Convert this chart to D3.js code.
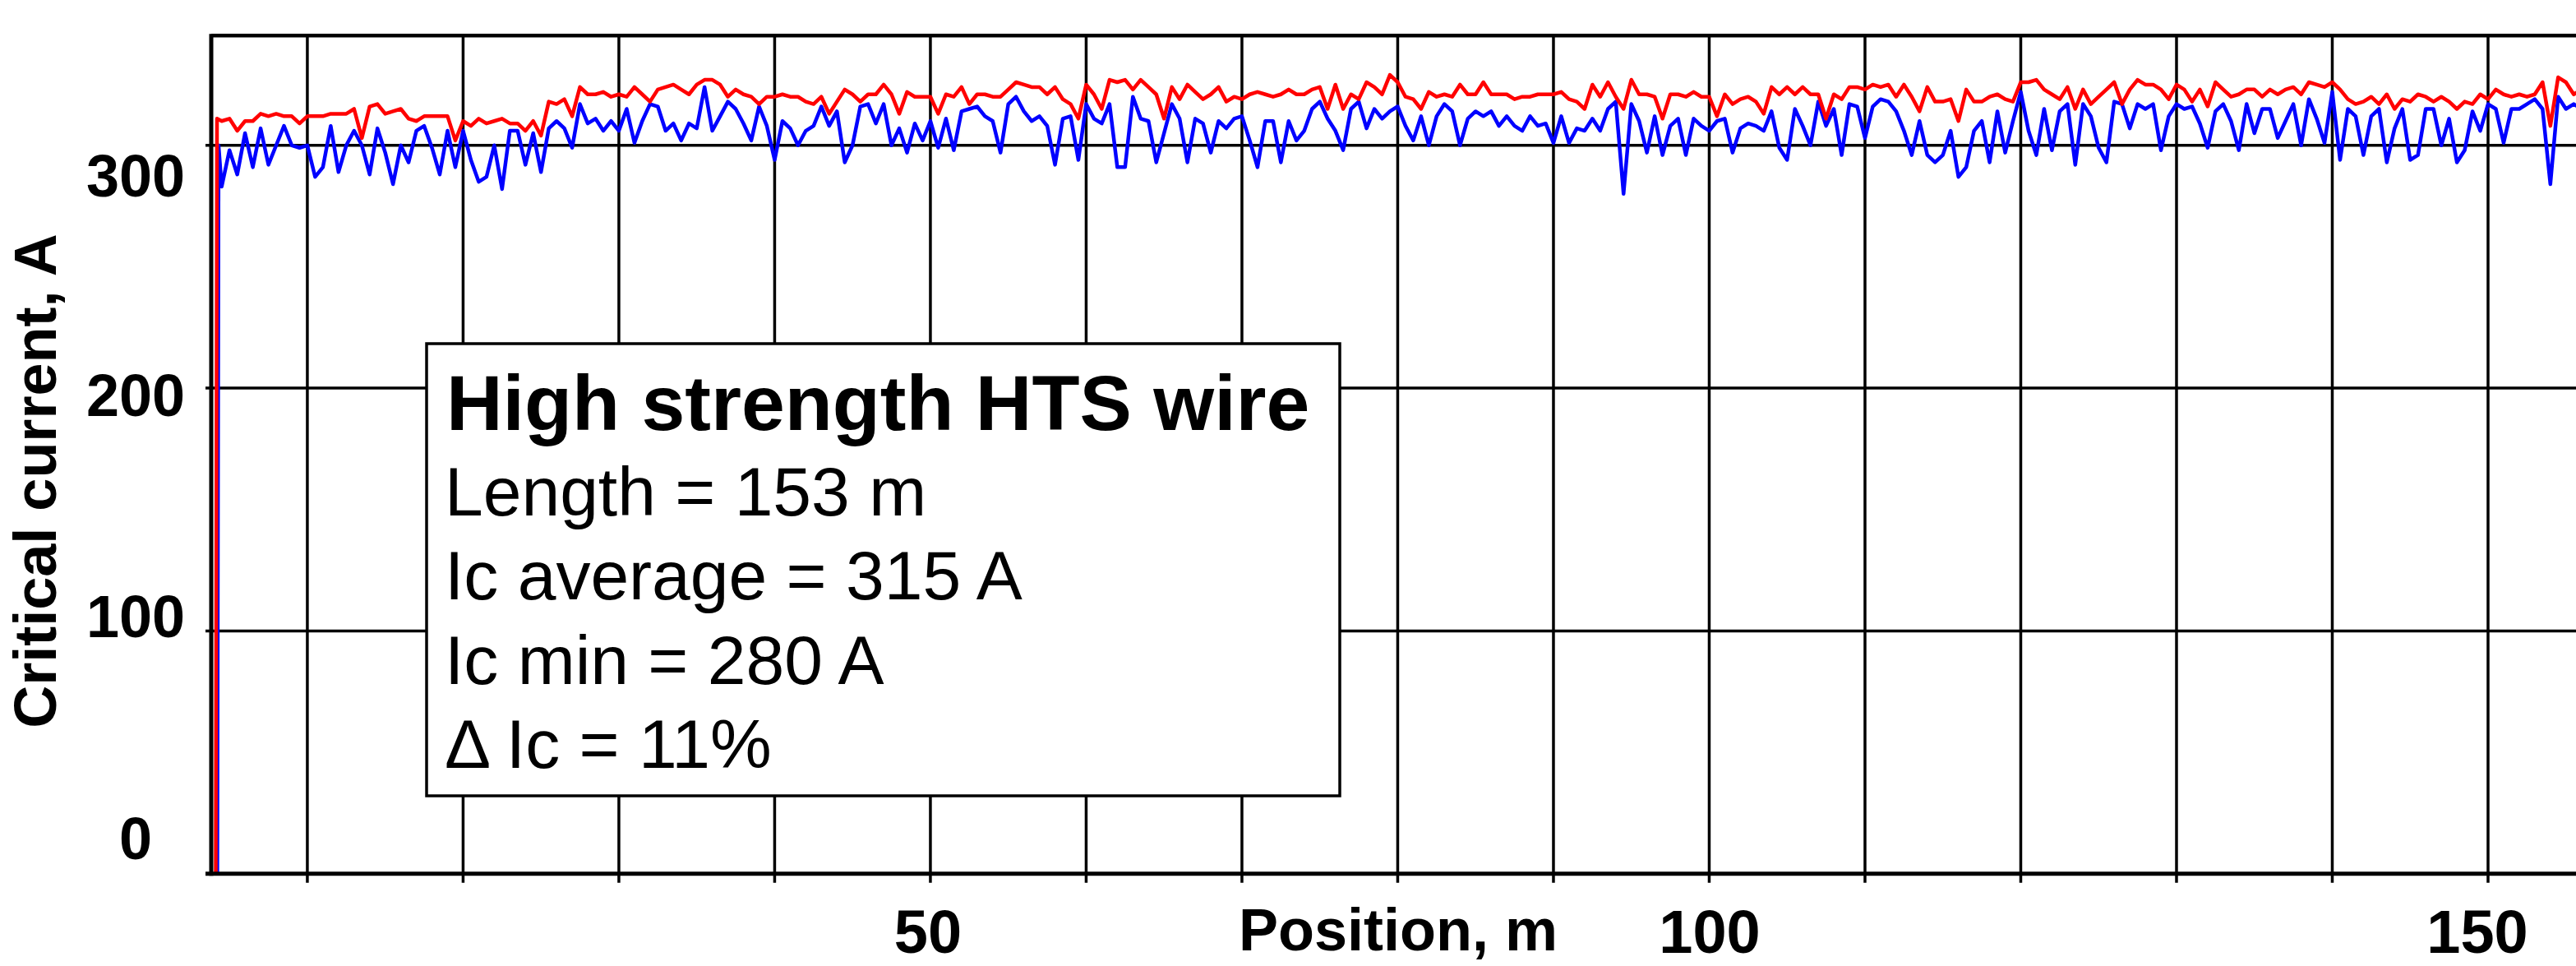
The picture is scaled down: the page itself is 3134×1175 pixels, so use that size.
<!DOCTYPE html>
<html>
<head>
<meta charset="utf-8">
<script src="https://cdn.jsdelivr.net/npm/d3@7"></script>
<style>
  html, body { margin: 0; padding: 0; background: #fff; }
  svg { display: block; }
  text { font-family: "Liberation Sans", Arial, sans-serif; fill: #000; }
</style>
</head>
<body>
<svg id="chart" width="3134" height="1175"></svg>
<script>
// Ic along the wire (A), one sample every 0.5 m from 4.5 m
const red_lead_in_pos = [4.12, 4.2];
const red_lead_in = [0, 311];
const blue_lead_in_pos = [4.22, 4.3];
const blue_lead_in = [0, 300];

const sample_start = 4.5;
const sample_step = 0.5;

const red_values = [
  310,311,306,310,310,313,312,313,312,312,309,
  312,312,312,313,313,313,315,303,316,317, 313,314,315,311,310,312,312,312,312,302,
  310,308,311,309,310,311,309,309,306,310, 304,318,317,319,312,324,321,321,322,320,
  321,320,324,321,318,323,324,325,323,321, 325,327,327,325,320,323,321,320,317,320,
  320,321,320,320,318,317,320,313,318,323, 321,318,321,321,325,321,313,322,320,320,
  320,313,321,320,324,317,321,321,320,320, 323,326,325,324,324,321,324,319,317,311,
  325,321,315,327,326,327,323,327,324,321, 311,324,319,325,322,319,321,324,318,320,
  319,321,322,321,320,321,323,321,321,323, 324,315,325,315,321,319,326,324,321,329,
  326,320,319,315,322,320,321,320,325,321, 321,326,321,321,321,319,320,320,321,321,
  321,322,319,318,315,325,320,326,320,315, 327,321,321,320,311,321,321,320,322,320,
  320,312,321,317,319,320,318,313,324,321, 324,321,324,321,321,311,321,319,324,324,
  323,325,324,325,320,325,320,314,324,318, 318,319,310,323,318,318,320,321,319,318,
  326,326,327,323,321,319,324,315,323,317, 320,323,326,317,323,327,325,325,323,319,
  325,323,318,323,316,326,323,320,321,323, 323,320,323,321,323,324,321,326,325,324,
  326,323,319,317,318,320,317,321,315,319, 318,321,320,318,320,318,315,318,317,321,
  319,323,321,320,321,320,321,326,308,328,326,321,323
];

const blue_values = [
  283,298,288,305,291,307,292,300,308,300,299,
  300,287,291,308,289,300,306,300,288,307, 297,284,300,293,306,308,299,288,306,291,
  306,294,285,287,300,282,306,306,292,305, 289,307,310,307,299,317,309,311,306,310,
  306,315,301,310,317,316,306,309,302,309, 307,324,306,312,318,315,309,302,316,308,
  294,310,307,300,306,308,316,308,314,293, 300,316,317,309,317,300,307,297,309,302,
  310,299,311,298,314,315,316,312,310,297, 317,320,314,310,312,308,292,311,312,294,
  317,311,309,317,291,291,320,311,310,293, 305,317,311,293,311,309,297,310,307,311,
  312,302,291,310,310,293,310,302,306,315, 318,311,306,298,315,318,307,315,311,314,
  316,308,302,312,300,312,317,314,300,311, 314,312,314,308,312,308,306,312,308,309,
  301,312,301,307,306,311,306,315,318,280, 317,310,297,312,296,308,311,296,311,308,
  306,310,311,297,307,309,308,306,314,299, 294,315,308,300,318,308,315,296,317,316,
  303,316,319,318,314,306,296,310,296,293, 296,306,287,291,306,310,293,314,297,310,
  322,306,296,315,298,314,317,292,317,312, 299,293,318,317,307,317,315,317,298,312,
  317,315,316,309,299,314,317,310,298,317, 305,315,315,303,310,317,300,319,311,301,
  322,294,315,312,296,312,315,293,307,315, 294,296,315,315,300,311,293,298,314,306,
  317,315,301,315,315,317,319,315,284,320,315,317,315
];

const x_grid = [10, 20, 30, 40, 50, 60, 70, 80, 90, 100, 110, 120, 130, 140, 150, 160];
const y_grid = [100, 200, 300];
const x_labels = [50, 100, 150];
const y_labels = [0, 100, 200, 300];

const x_title = 'Position, m';
const y_title = 'Critical current, A';
const box_title = 'High strength HTS wire';
const box_lines = ['Length = 153 m', 'Ic average = 315 A', 'Ic min = 280 A', 'Δ Ic = 11%'];

// layout
const W = 3134, H = 1175;
const plot = { left: 257, top: 43.3, bottom: 1062.7, right: 3216.5 };

const x_scale = d3.scaleLinear().domain([3.83, 160]).range([plot.left, plot.right]);
const y_scale = d3.scaleLinear().domain([0, 345.2]).range([plot.bottom, plot.top]);

// the tick labels in the picture sit a little off their grid lines
const x_label_scale = d3.scaleLinear().domain([50, 100, 150]).range([1129, 2080, 3014]);
const y_label_scale = d3.scaleLinear().domain([0, 100, 200, 300]).range([1019, 748.5, 480, 213]);

const svg = d3.select('#chart');

svg.append('rect')
  .attr('width', W)
  .attr('height', H)
  .attr('fill', '#fff');

// grid
const grid = svg.append('g').attr('stroke', '#000').attr('stroke-width', 3.5);

grid.selectAll('line.v')
  .data(x_grid)
  .enter()
  .append('line')
  .attr('class', 'v')
  .attr('x1', d => x_scale(d))
  .attr('x2', d => x_scale(d))
  .attr('y1', plot.top)
  .attr('y2', plot.bottom + 11);

grid.selectAll('line.h')
  .data(y_grid)
  .enter()
  .append('line')
  .attr('class', 'h')
  .attr('x1', plot.left - 7)
  .attr('x2', plot.right)
  .attr('y1', d => y_scale(d))
  .attr('y2', d => y_scale(d));

// series
function to_points(lead_pos, lead_vals, values) {
  const pts = lead_pos.map((p, i) => ({ pos: p, val: lead_vals[i] }));
  values.forEach((v, i) => pts.push({ pos: sample_start + i * sample_step, val: v }));
  return pts;
}

const red_points = to_points(red_lead_in_pos, red_lead_in, red_values);
const blue_points = to_points(blue_lead_in_pos, blue_lead_in, blue_values);

svg.append('clipPath')
  .attr('id', 'plot-clip')
  .append('rect')
  .attr('x', plot.left)
  .attr('y', plot.top)
  .attr('width', plot.right - plot.left)
  .attr('height', plot.bottom - plot.top + 2);

const line = d3.line()
  .x(d => x_scale(d.pos))
  .y(d => y_scale(d.val));

const series = svg.append('g').attr('clip-path', 'url(#plot-clip)');

series.append('path')
  .datum(blue_points)
  .attr('d', line)
  .attr('fill', 'none')
  .attr('stroke', '#0000ff')
  .attr('stroke-width', 4.5)
  .attr('stroke-linejoin', 'round');

series.append('path')
  .datum(red_points)
  .attr('d', line)
  .attr('fill', 'none')
  .attr('stroke', '#ff0000')
  .attr('stroke-width', 4.5)
  .attr('stroke-linejoin', 'round');

// frame
const frame = svg.append('g').attr('stroke', '#000');

frame.append('line')
  .attr('x1', plot.left).attr('x2', plot.left)
  .attr('y1', plot.top - 2).attr('y2', plot.bottom + 2.5)
  .attr('stroke-width', 5);

frame.append('line')
  .attr('x1', plot.left - 7).attr('x2', plot.right)
  .attr('y1', plot.bottom).attr('y2', plot.bottom)
  .attr('stroke-width', 5);

frame.append('line')
  .attr('x1', plot.left).attr('x2', plot.right)
  .attr('y1', plot.top).attr('y2', plot.top)
  .attr('stroke-width', 4.5);

// tick labels
svg.append('g')
  .selectAll('text')
  .data(y_labels)
  .enter()
  .append('text')
  .text(d => d)
  .attr('x', 165)
  .attr('y', d => y_label_scale(d) + 26)
  .attr('text-anchor', 'middle')
  .attr('font-size', 72)
  .attr('font-weight', 'bold');

svg.append('g')
  .selectAll('text')
  .data(x_labels)
  .enter()
  .append('text')
  .text(d => d)
  .attr('x', d => x_label_scale(d))
  .attr('y', 1159)
  .attr('text-anchor', 'middle')
  .attr('font-size', 74)
  .attr('font-weight', 'bold');

// axis titles
svg.append('text')
  .text(x_title)
  .attr('x', 1701)
  .attr('y', 1156)
  .attr('text-anchor', 'middle')
  .attr('font-size', 72)
  .attr('font-weight', 'bold');

svg.append('text')
  .text(y_title)
  .attr('transform', 'translate(68,585) rotate(-90)')
  .attr('text-anchor', 'middle')
  .attr('font-size', 72)
  .attr('font-weight', 'bold');

// info box
const box = svg.append('g');

box.append('rect')
  .attr('x', 519)
  .attr('y', 418)
  .attr('width', 1111)
  .attr('height', 550)
  .attr('fill', '#fff')
  .attr('stroke', '#000')
  .attr('stroke-width', 3.5);

box.append('text')
  .text(box_title)
  .attr('x', 543)
  .attr('y', 523)
  .attr('font-size', 95)
  .attr('font-weight', 'bold');

box.selectAll('text.line')
  .data(box_lines)
  .enter()
  .append('text')
  .attr('class', 'line')
  .text(d => d)
  .attr('x', 541)
  .attr('y', (d, i) => 627 + i * 102.3)
  .attr('font-size', 84);
</script>
</body>
</html>
